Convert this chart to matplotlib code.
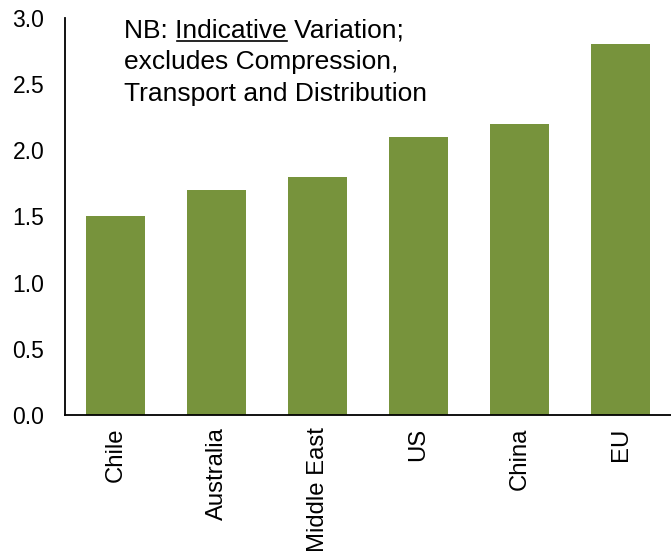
import matplotlib.pyplot as plt
import numpy as np

plt.rcParams['font.family'] = ['Liberation Sans', 'DejaVu Sans']

regions = ['Chile', 'Australia', 'Middle East', 'US', 'China', 'EU']
values = [1.5, 1.7, 1.8, 2.1, 2.2, 2.8]
yticks = [0.0, 0.5, 1.0, 1.5, 2.0, 2.5, 3.0]

fig = plt.figure(figsize=(6.71, 5.55), dpi=100)
ax = fig.add_axes([0.0969, 0.2523, 0.9031, 0.7153])

x = np.arange(len(regions))
ax.bar(x, values, width=0.59, color='#77933C')

ax.set_xlim(-0.5, len(regions) - 0.5)
ax.set_ylim(0, 3.0)
ax.set_yticks(yticks)
ax.set_yticklabels([f'{v:.1f}' for v in yticks], fontsize=16.5)
ax.set_xticks(x)
ax.set_xticklabels(regions, rotation=90, fontsize=17.2, va='top', ha='center')
ax.tick_params(length=0)
ax.tick_params(axis='y', pad=15)
ax.tick_params(axis='x', pad=9)

for s in ['top', 'right']:
    ax.spines[s].set_visible(False)
ax.spines['left'].set_linewidth(1.3)
ax.spines['bottom'].set_linewidth(1.3)

# note in the top left, with "Indicative" underlined
fs = 19
tx, ty = 0.098, 0.998
lines = ['NB: Indicative Variation;', 'excludes Compression,', 'Transport and Distribution']
for i, line in enumerate(lines):
    ax.text(tx, ty - i * 0.079, line, transform=ax.transAxes, fontsize=fs, va='top', ha='left')

fig.canvas.draw()
r = fig.canvas.get_renderer()
t1 = ax.text(tx, ty, 'NB: ', transform=ax.transAxes, fontsize=fs, va='top', alpha=0)
t2 = ax.text(tx, ty, 'NB: Indicative', transform=ax.transAxes, fontsize=fs, va='top', alpha=0)
b1 = t1.get_window_extent(r)
b2 = t2.get_window_extent(r)
inv = ax.transAxes.inverted()
x0 = inv.transform((b1.x1 + 1, 0))[0]
x1 = inv.transform((b2.x1, 0))[0]
yl = inv.transform((0, b2.y0 + 2))[1]
ax.plot([x0, x1], [yl, yl], transform=ax.transAxes, color='black', lw=1.2, clip_on=False)

fig.savefig('out.png', dpi=100)
